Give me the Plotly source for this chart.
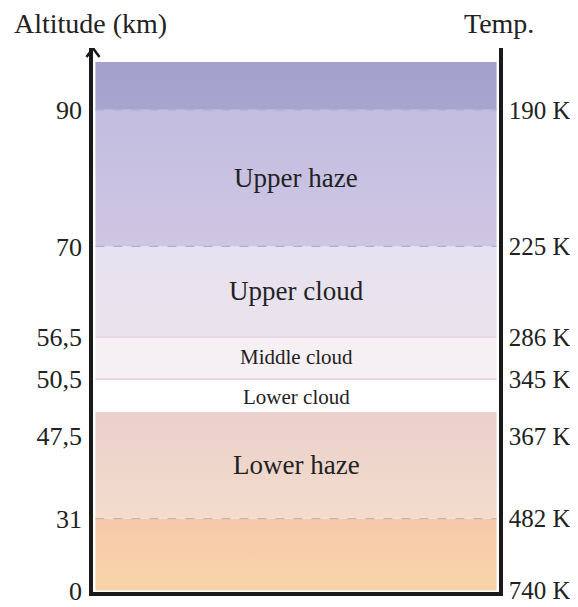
import plotly.graph_objects as go

# Schematic layer boundaries (arbitrary vertical scale, bottom = surface)
layer_bottoms = [0, 72, 179, 212, 254, 345, 482]
layer_tops = [72, 179, 212, 254, 345, 482, 530]
layer_colors_bottom = ['#f9d4a8', '#f3dccc', '#ffffff', '#f6f0f5', '#ebe4ee', '#cfc6e3', '#a8a6cf']
layer_colors_top = ['#f5c9aa', '#ebd0cc', '#ffffff', '#f6f0f5', '#e6e1f0', '#c2bde0', '#a3a1cd']

# Layer names and where they sit on the schematic scale
layer_names = ['Lower haze', 'Lower cloud', 'Middle cloud', 'Upper cloud', 'Upper haze']
layer_name_pos = [126, 194, 234, 300, 414]
layer_name_size = [27, 21, 21, 27, 27]

# Axis labels
tick_pos = [0, 72, 155, 212, 254, 345, 482]
altitude_labels = ['0', '31', '47,5', '50,5', '56,5', '70', '90']
temp_labels = ['740 K', '482 K', '367 K', '345 K', '286 K', '225 K', '190 K']

# Boundary lines between layers
boundary_pos = [72, 212, 254, 345, 482]
boundary_colors = ['#c9b4ac', '#e2c4d0', '#e5d0de', '#b6a9d3', '#b0a9d2']
boundary_dash = ['dash', 'solid', 'solid', 'dash', 'dash']

FONT = 'Liberation Serif'
INK = '#222222'
TOP = 544

fig = go.Figure()

for y0, y1, cb, ct in zip(layer_bottoms, layer_tops, layer_colors_bottom, layer_colors_top):
    fig.add_trace(go.Scatter(
        x=[0, 1, 1, 0, 0],
        y=[y0, y0, y1, y1, y0],
        mode='lines',
        line=dict(width=0),
        fill='toself',
        fillgradient=dict(type='vertical', colorscale=[[0, cb], [1, ct]]),
        hoverinfo='skip',
        showlegend=False,
    ))

# invisible trace for the right axis
fig.add_trace(go.Scatter(x=[0], y=[0], yaxis='y2', mode='markers',
                         marker=dict(opacity=0), hoverinfo='skip', showlegend=False))

for pos, col, dash in zip(boundary_pos, boundary_colors, boundary_dash):
    fig.add_shape(type='line', x0=0, x1=1, y0=pos, y1=pos,
                  line=dict(color=col, width=1.2, dash=dash))

for name, pos, size in zip(layer_names, layer_name_pos, layer_name_size):
    fig.add_annotation(x=0.5, y=pos, text=name, showarrow=False,
                       font=dict(family=FONT, size=size, color=INK))

# arrow head (open chevron) on the altitude axis
fig.add_shape(type='path', xref='paper', yref='y', xsizemode='pixel', ysizemode='pixel',
              xanchor=0, yanchor=TOP,
              path='M -6.5,-9 Q -2,-3 0,0 Q 2,-3 6.5,-9',
              line=dict(color='#1a1a1a', width=2.5))

fig.add_annotation(x=-0.007, y=1.045, xref='paper', yref='paper', text='Altitude (km)',
                   showarrow=False, xanchor='center', yanchor='middle',
                   font=dict(family=FONT, size=28, color=INK))
fig.add_annotation(x=1.0, y=1.045, xref='paper', yref='paper', text='Temp.',
                   showarrow=False, xanchor='center', yanchor='middle',
                   font=dict(family=FONT, size=28, color=INK))

fig.update_layout(
    width=578, height=607,
    margin=dict(l=85, r=87, t=40, b=23, autoexpand=False),
    paper_bgcolor='white', plot_bgcolor='white',
    xaxis=dict(range=[-0.006, 1.006], showgrid=False, zeroline=False, automargin=False,
               showticklabels=False, showline=True, linewidth=3.5,
               linecolor='#1a1a1a', fixedrange=True),
    yaxis=dict(range=[-1.5, TOP], showgrid=False, zeroline=False, automargin=False,
               showline=True, linewidth=3.5, linecolor='#1a1a1a',
               tickmode='array', tickvals=tick_pos, ticktext=altitude_labels,
               ticks='', ticklabelstandoff=2,
               tickfont=dict(family=FONT, size=26, color=INK)),
    yaxis2=dict(range=[-1.5, TOP], overlaying='y', side='right', showgrid=False,
                zeroline=False, automargin=False, showline=True, linewidth=3.5,
                linecolor='#1a1a1a',
                tickmode='array', tickvals=tick_pos, ticktext=temp_labels,
                ticks='', ticklabelstandoff=1,
                tickfont=dict(family=FONT, size=25, color=INK)),
)

fig.write_html('out.html')
